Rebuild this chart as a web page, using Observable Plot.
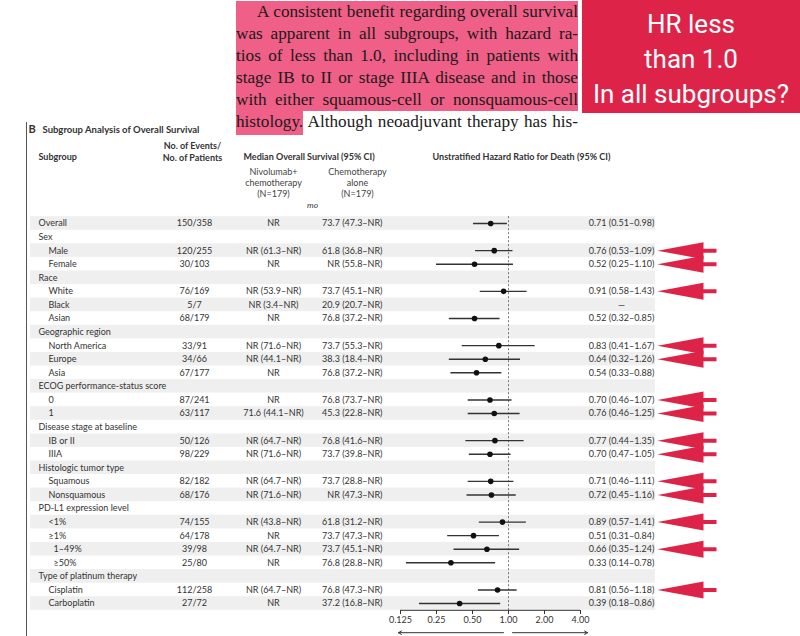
<!DOCTYPE html>
<html><head><meta charset="utf-8">
<script src="https://cdn.jsdelivr.net/npm/d3@7"></script>
<script src="https://cdn.jsdelivr.net/npm/@observablehq/plot@0.6"></script>
<style>
body{margin:0;background:#fff;width:800px;height:636px;overflow:hidden;position:relative;}
#para{position:absolute;left:236px;top:1px;width:342px;font-family:"Liberation Serif","Times New Roman",serif;font-size:17.2px;line-height:22px;color:#1a1a1a;}
#para .ln{height:22px;text-align:justify;text-align-last:justify;}
#para .hl{background:#ef5f87;}
#para .hl2{background:#ef5f87;padding:3px 0 4px 0;}
#box{position:absolute;left:582px;top:0;width:218px;height:113px;background:#de2348;color:#fff;font-family:Roboto,"Noto Sans",sans-serif;font-size:26px;line-height:35px;text-align:center;padding-top:7px;box-sizing:border-box;}
#chart{position:absolute;left:0;top:118px;}
#border{position:absolute;left:26px;top:122px;bottom:0;border-left:1px solid #555;}
</style></head>
<body>
<div id="para">
<div class="ln hl" style="text-indent:21px">A consistent benefit regarding overall survival</div>
<div class="ln hl">was apparent in all subgroups, with hazard ra-</div>
<div class="ln hl">tios of less than 1.0, including in patients with</div>
<div class="ln hl">stage IB to II or stage IIIA disease and in those</div>
<div class="ln hl">with either squamous-cell or nonsquamous-cell</div>
<div class="ln"><span class="hl2">histology.</span> Although neoadjuvant therapy has his-</div>
</div>
<div id="box"><div>HR less</div><div>than 1.0</div><div>In all subgroups?</div></div>
<div id="border"></div>
<div id="chart"></div>
<script>
const labels = ["Overall","Sex","Male","Female","Race","White","Black","Asian","Geographic region","North America","Europe","Asia","ECOG performance-status score","0","1","Disease stage at baseline","IB or II","IIIA","Histologic tumor type","Squamous","Nonsquamous","PD-L1 expression level","<1%","≥1%","1–49%","≥50%","Type of platinum therapy","Cisplatin","Carboplatin"];
const levels = [0,0,1,1,0,1,1,1,0,1,1,1,0,1,1,0,1,1,0,1,1,0,1,1,2,2,0,1,1];
const events = ["150/358","","120/255","30/103","","76/169","5/7","68/179","","33/91","34/66","67/177","","87/241","63/117","","50/126","98/229","","82/182","68/176","","74/155","64/178","39/98","25/80","","112/258","27/72"];
const nivoOS = ["NR","","NR (61.3–NR)","NR","","NR (53.9–NR)","NR (3.4–NR)","NR","","NR (71.6–NR)","NR (44.1–NR)","NR","","NR","71.6 (44.1–NR)","","NR (64.7–NR)","NR (71.6–NR)","","NR (64.7–NR)","NR (71.6–NR)","","NR (43.8–NR)","NR","NR (64.7–NR)","NR","","NR (64.7–NR)","NR"];
const chemoOS = ["73.7 (47.3–NR)","","61.8 (36.8–NR)","NR (55.8–NR)","","73.7 (45.1–NR)","20.9 (20.7–NR)","76.8 (37.2–NR)","","73.7 (55.3–NR)","38.3 (18.4–NR)","76.8 (37.2–NR)","","76.8 (73.7–NR)","45.3 (22.8–NR)","","76.8 (41.6–NR)","73.7 (39.8–NR)","","73.7 (28.8–NR)","NR (47.3–NR)","","61.8 (31.2–NR)","73.7 (47.3–NR)","73.7 (45.1–NR)","76.8 (28.8–NR)","","76.8 (47.3–NR)","37.2 (16.8–NR)"];
const hr = [0.71,null,0.76,0.52,null,0.91,null,0.52,null,0.83,0.64,0.54,null,0.70,0.76,null,0.77,0.70,null,0.71,0.72,null,0.89,0.51,0.66,0.33,null,0.81,0.39];
const lo = [0.51,null,0.53,0.25,null,0.58,null,0.32,null,0.41,0.32,0.33,null,0.46,0.46,null,0.44,0.47,null,0.46,0.45,null,0.57,0.31,0.35,0.14,null,0.56,0.18];
const hi = [0.98,null,1.09,1.10,null,1.43,null,0.85,null,1.67,1.26,0.88,null,1.07,1.25,null,1.35,1.05,null,1.11,1.16,null,1.41,0.84,1.24,0.78,null,1.18,0.86];
const xTicks = [0.125,0.25,0.5,1,2,4];
const xTickLabels = ["0.125","0.25","0.50","1.00","2.00","4.00"];

const rows = labels.map((label,i)=>({i,label,level:levels[i],events:events[i],nivo:nivoOS[i],chemo:chemoOS[i],hr:hr[i],lo:lo[i],hi:hi[i]}));
const withHR = rows.filter(d=>d.hr!=null);
const flagged = withHR.filter(d=>d.hi>1);
const f2 = v => v.toFixed(2);
const hrText = d => d.hr!=null ? `${f2(d.hr)} (${f2(d.lo)}–${f2(d.hi)})` : (d.events ? "—" : "");
const tickMap = new Map(xTicks.map((t,k)=>[t,xTickLabels[k]]));
const N = rows.length;
const RED = "#de2348";

const arrowSymbol = {draw(ctx){
  ctx.moveTo(0,0); ctx.lineTo(46,-8.5); ctx.lineTo(46,-2); ctx.lineTo(59,-2);
  ctx.lineTo(59,2); ctx.lineTo(46,2); ctx.lineTo(46,8.5); ctx.closePath();
}};

const ML = 30;
const hdr = (text, x, y, o={}) => Plot.text([text], {text: d=>d, frameAnchor:"top-left", dx:x-ML, dy:y, lineAnchor:"middle", ...o});

const chart = Plot.plot({
  width:800, height:518, marginLeft:ML, marginRight:145, marginTop:0, marginBottom:26,
  style:{fontFamily:"Lato, 'Open Sans', sans-serif", fontSize:"9px", color:"#333", background:"transparent", overflow:"visible"},
  x:{type:"log", base:2, domain:[xTicks[0], xTicks[xTicks.length-1]], range:[400,580], axis:null},
  y:{type:"linear", domain:[-0.5, N-0.5], range:[98.2, 491.8], axis:null},
  marks:[
    Plot.rect(rows.filter(d=>d.i%2===0), {y1:d=>d.i-0.5, y2:d=>d.i+0.5, fill:"#efefef"}),
    hdr("B", 28, 11, {fontWeight:"bold", fontSize:11, textAnchor:"start"}),
    hdr("Subgroup Analysis of Overall Survival", 42, 11, {fontWeight:"bold", fontSize:9.5, textAnchor:"start"}),
    hdr("Subgroup", 38, 39, {fontWeight:"bold", textAnchor:"start"}),
    hdr("No. of Events/\nNo. of Patients", 192, 33, {fontWeight:"bold", textAnchor:"middle", lineHeight:1.3}),
    hdr("Median Overall Survival (95% CI)", 243, 39, {fontWeight:"bold", textAnchor:"start"}),
    hdr("Nivolumab+\nchemotherapy\n(N=179)", 273, 64, {textAnchor:"middle", lineHeight:1.25, fill:"#444"}),
    hdr("Chemotherapy\nalone\n(N=179)", 357, 64, {textAnchor:"middle", lineHeight:1.25, fill:"#444"}),
    hdr("mo", 312, 87, {textAnchor:"middle", fontStyle:"italic", fontSize:8.5}),
    hdr("Unstratified Hazard Ratio for Death (95% CI)", 521, 39, {fontWeight:"bold", textAnchor:"middle"}),
    Plot.text(rows.filter(d=>d.level===0), {y:"i", text:"label", frameAnchor:"left", dx:8, textAnchor:"start"}),
    Plot.text(rows.filter(d=>d.level===1), {y:"i", text:"label", frameAnchor:"left", dx:18, textAnchor:"start"}),
    Plot.text(rows.filter(d=>d.level===2), {y:"i", text:"label", frameAnchor:"left", dx:23, textAnchor:"start"}),
    Plot.text(rows, {y:"i", text:"events", frameAnchor:"left", dx:194-ML, textAnchor:"middle"}),
    Plot.text(rows, {y:"i", text:"nivo", frameAnchor:"left", dx:273-ML, textAnchor:"middle"}),
    Plot.text(rows, {y:"i", text:"chemo", frameAnchor:"left", dx:382-ML, textAnchor:"end"}),
    Plot.text(rows, {y:"i", text:hrText, frameAnchor:"left", dx:621-ML, textAnchor:"middle"}),
    Plot.ruleX([1], {y1:-0.5, y2:N-0.5, stroke:"#777", strokeDasharray:"2,2"}),
    Plot.ruleY(withHR, {y:"i", x1:"lo", x2:"hi", stroke:"#333", strokeWidth:1.4}),
    Plot.dot(withHR, {x:"hr", y:"i", r:2.8, fill:"#111"}),
    Plot.ruleY([N-0.5], {x1:xTicks[0], x2:xTicks[xTicks.length-1], stroke:"#333"}),
    Plot.axisX({ticks:xTicks, tickFormat:d=>tickMap.get(d), tickSize:4, tickPadding:2, label:null, anchor:"bottom", stroke:"#333"}),
    Plot.arrow([{a:1, b:xTicks[0]}], {x1:"a", x2:"b", y1:()=>N+1.15, y2:()=>N+1.15, insetStart:5, insetEnd:-2, headLength:5, stroke:"#333", strokeWidth:1}),
    Plot.arrow([{a:1, b:xTicks[xTicks.length-1]}], {x1:"a", x2:"b", y1:()=>N+1.15, y2:()=>N+1.15, insetStart:4, insetEnd:-7, headLength:5, stroke:"#333", strokeWidth:1}),
    Plot.dot(flagged, {y:"i", frameAnchor:"right", dx:2, symbol:arrowSymbol, r:5, fill:RED})
  ]
});
document.getElementById("chart").appendChild(chart);
</script>
</body></html>
